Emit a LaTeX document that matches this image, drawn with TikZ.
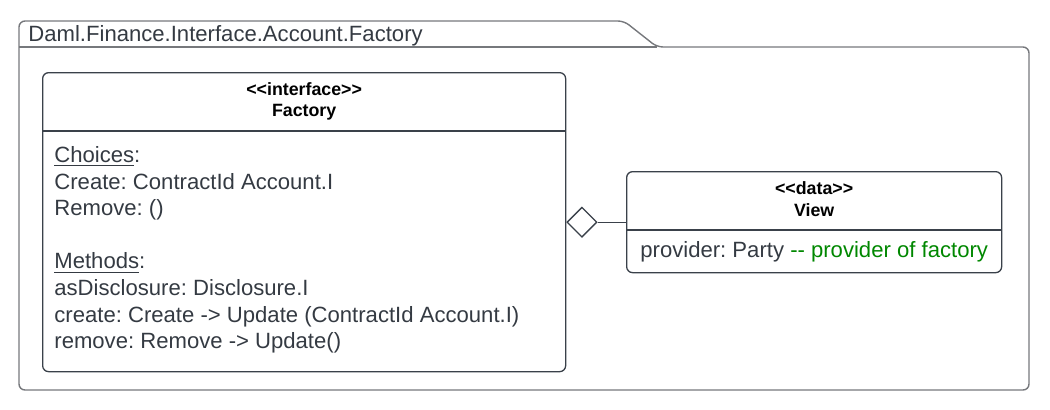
\documentclass[tikz,border=0pt]{standalone}
\usepackage{fontspec}
\setmainfont{Liberation Sans}[Ligatures=TeXOff]
\usetikzlibrary{shapes.geometric,calc}
\frenchspacing
\definecolor{umlline}{RGB}{58,65,74}
\definecolor{umltext}{RGB}{52,58,66}
\definecolor{pkgline}{RGB}{118,120,124}
\definecolor{cmtgreen}{RGB}{0,135,0}
\tikzset{
  classbox/.style={draw=umlline,line width=0.65pt,rounded corners=3pt,anchor=north west,inner sep=0pt},
  member/.style={anchor=base west,inner sep=0pt,text=umltext,font=\fontsize{11.05}{13}\selectfont},
  stereo/.style={anchor=base,inner sep=0pt,font=\fontsize{8.9}{10}\selectfont\bfseries},
}

\begin{document}
\begin{tikzpicture}[x=0.5pt,y=-0.5pt]
  \useasboundingbox (0,0) rectangle (1050,409);
  % package frame with tab
  \draw[pkgline,line width=0.7pt,rounded corners=3pt] (19,390) -- (19,21) -- (624,21) -- (657,47) -- (1029,47) -- (1029,390) -- cycle;
  \draw[pkgline,line width=0.7pt] (19,47) -- (657,47);
  \node[member] (pkg-title) at (28,41) {Daml.Finance.Interface.Account.Factory};
  %% class boxes
  \node[classbox,minimum width=261.5pt,minimum height=149.5pt] (factory) at (42,72) {};
  \node[classbox,minimum width=187.5pt,minimum height=50.5pt] (view) at (626,171) {};
  \draw[umlline,line width=0.65pt] (factory.west |- {(0,131)}) -- (factory.east |- {(0,131)});
  \draw[umlline,line width=0.65pt] (view.west |- {(0,230)}) -- (view.east |- {(0,230)});
  % headers
  \node[stereo] (factory-stereo) at (factory.north |- {(0,95)}) {<<interface>>};
  \node[stereo] (factory-name) at (factory.north |- {(0,116)}) {Factory};
  \node[stereo] (view-stereo) at (view.north |- {(0,194)}) {<<data>>};
  \node[stereo] (view-name) at (view.north |- {(0,216)}) {View};
  % members (line 3 left empty)
  \foreach \n/\txt in {0/{\underline{Choices}:},1/{Create: ContractId Account.I},2/{Remove: ()},4/{\underline{Methods}:},5/{asDisclosure: Disclosure.I},6/{create: Create -> Update (ContractId Account.I)},7/{remove: Remove -> Update()}}{
    \node[member] (factory-m\n) at (54,{162.5+26.6*\n}) {\txt};
  }
  \node[member] (view-m0) at (640,257) {provider: Party \textcolor{cmtgreen}{-- provider of factory}};
  %% aggregation
  \node[diamond,draw=umlline,line width=0.65pt,fill=white,minimum width=15pt,minimum height=15pt,inner sep=0pt,anchor=west] (agg) at (factory.east) {};
  \draw[umlline,line width=0.65pt] (agg.east) -- (view.west);
\end{tikzpicture}
\end{document}
